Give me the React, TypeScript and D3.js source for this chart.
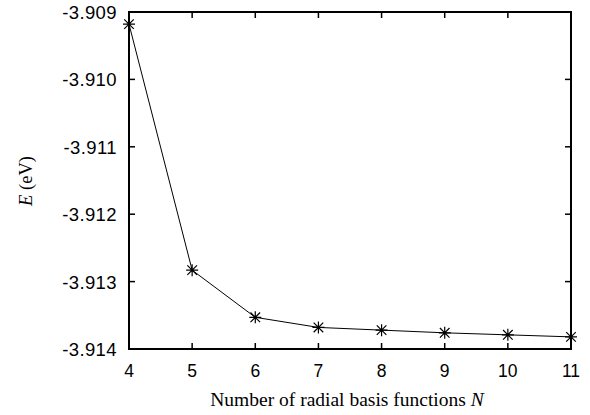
import React, { useEffect, useRef } from "react";
import * as d3 from "d3";

const nValues = [4, 5, 6, 7, 8, 9, 10, 11];
const energies = [-3.90918, -3.91283, -3.91353, -3.91368, -3.91372, -3.91376, -3.91379, -3.91382];
const yTicks = [-3.909, -3.91, -3.911, -3.912, -3.913, -3.914];

const W = 590;
const H = 415;
const margin = { left: 129, right: 19, top: 12, bottom: 66 };

export default function App() {
  const ref = useRef<SVGSVGElement>(null);

  useEffect(() => {
    const svg = d3.select(ref.current);
    svg.selectAll("*").remove();

    const x = d3.scaleLinear().domain([4, 11]).range([margin.left, W - margin.right]);
    const y = d3.scaleLinear().domain([-3.914, -3.909]).range([H - margin.bottom, margin.top]);
    const tl = 6;
    const sans = "'Liberation Sans', Arial, sans-serif";
    const serif = "'Liberation Serif', 'Times New Roman', serif";

    const g = svg.append("g");

    // ticks, inward on all sides
    nValues.forEach((n) => {
      g.append("line").attr("x1", x(n)).attr("x2", x(n))
        .attr("y1", y(-3.914)).attr("y2", y(-3.914) - tl).attr("stroke", "#000").attr("stroke-width", 1.5);
      g.append("line").attr("x1", x(n)).attr("x2", x(n))
        .attr("y1", y(-3.909)).attr("y2", y(-3.909) + tl).attr("stroke", "#000").attr("stroke-width", 1.5);
      g.append("text").attr("x", x(n)).attr("y", 377).attr("text-anchor", "middle")
        .attr("font-family", sans).attr("font-size", 17.5).text(n);
    });
    yTicks.forEach((t) => {
      g.append("line").attr("x1", x(4)).attr("x2", x(4) + tl)
        .attr("y1", y(t)).attr("y2", y(t)).attr("stroke", "#000").attr("stroke-width", 1.5);
      g.append("line").attr("x1", x(11)).attr("x2", x(11) - tl)
        .attr("y1", y(t)).attr("y2", y(t)).attr("stroke", "#000").attr("stroke-width", 1.5);
      g.append("text").attr("x", 117).attr("y", y(t) + 7).attr("text-anchor", "end")
        .attr("font-family", sans).attr("font-size", 18.5).attr("letter-spacing", 0.4)
        .text(t.toFixed(3));
    });

    // frame
    g.append("rect").attr("x", x(4)).attr("y", y(-3.909))
      .attr("width", x(11) - x(4)).attr("height", y(-3.914) - y(-3.909))
      .attr("fill", "none").attr("stroke", "#000").attr("stroke-width", 2);

    const data = nValues.map((n, i) => [n, energies[i]] as [number, number]);
    const line = d3.line<[number, number]>().x((d) => x(d[0])).y((d) => y(d[1]));
    g.append("path").attr("d", line(data)).attr("fill", "none").attr("stroke", "#000").attr("stroke-width", 1);

    const s = 6;
    const mk = g.selectAll("g.mk").data(data).enter().append("g")
      .attr("transform", (d) => `translate(${x(d[0])},${y(d[1])})`);
    mk.append("path")
      .attr("d", `M${-s},0H${s}M0,${-s}V${s}M${-s * 0.8},${-s * 0.8}L${s * 0.8},${s * 0.8}M${-s * 0.8},${s * 0.8}L${s * 0.8},${-s * 0.8}`)
      .attr("stroke", "#000").attr("stroke-width", 1.2);

    // titles
    const xt = g.append("text").attr("x", 347).attr("y", 406).attr("text-anchor", "middle")
      .attr("font-family", serif).attr("font-size", 19.5);
    xt.append("tspan").text("Number of radial basis functions ");
    xt.append("tspan").attr("font-style", "italic").text("N");

    const yt = g.append("text").attr("transform", "translate(32,181) rotate(-90)").attr("text-anchor", "middle")
      .attr("font-family", serif).attr("font-size", 18.5);
    yt.append("tspan").attr("font-style", "italic").text("E");
    yt.append("tspan").text(" (eV)");
  }, []);

  return (
    <svg ref={ref} width={W} height={H} style={{ position: "absolute", left: 0, top: 0, background: "#fff" }} />
  );
}
